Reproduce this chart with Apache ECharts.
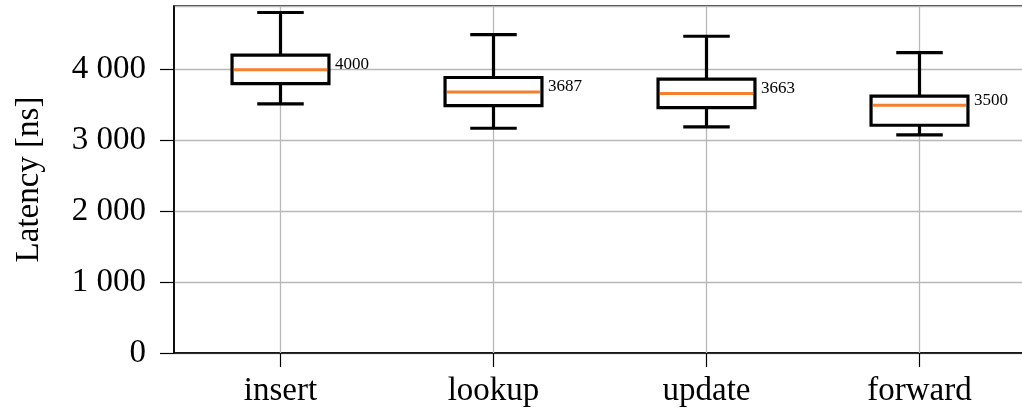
<!DOCTYPE html>
<html>
<head>
<meta charset="utf-8">
<script src="https://cdn.jsdelivr.net/npm/echarts@6/dist/echarts.min.js"></script>
<style>
  html, body { margin: 0; padding: 0; background: #fff; }
  #chart { width: 1022px; height: 411px; }
</style>
</head>
<body>
<div id="chart"></div>
<script>
// Latency distribution per operation (box = quartiles, whiskers = range)
const categories = ['insert', 'lookup', 'update', 'forward'];
const whiskerLow  = [3517, 3174, 3192, 3079];
const q1          = [3805, 3494, 3466, 3216];
const median      = [4000, 3687, 3663, 3500];
const q3          = [4205, 3890, 3866, 3626];
const whiskerHigh = [4808, 4497, 4473, 4243];
const yTicks = { min: 0, max: 4900, interval: 1000 };

const FONT = '"Liberation Serif", "DejaVu Serif", serif';

const boxData = categories.map((c, i) =>
  [i, whiskerLow[i], q1[i], median[i], q3[i], whiskerHigh[i]]);

function renderBox(params, api) {
  const i = api.value(0);
  const band = api.size([1, 0])[0];
  const bw = band * 0.455;
  const capW = bw * 0.48;
  const pLow = api.coord([i, api.value(1)]);
  const pQ1 = api.coord([i, api.value(2)]);
  const pMed = api.coord([i, api.value(3)]);
  const pQ3 = api.coord([i, api.value(4)]);
  const pHigh = api.coord([i, api.value(5)]);
  const x = pMed[0];
  const black = { stroke: '#000', lineWidth: 3.2, fill: null };
  return {
    type: 'group',
    children: [
      { type: 'line', shape: { x1: x, y1: pQ3[1], x2: x, y2: pHigh[1] }, style: black },
      { type: 'line', shape: { x1: x, y1: pQ1[1], x2: x, y2: pLow[1] }, style: black },
      { type: 'line', shape: { x1: x - capW / 2, y1: pHigh[1], x2: x + capW / 2, y2: pHigh[1] }, style: black },
      { type: 'line', shape: { x1: x - capW / 2, y1: pLow[1], x2: x + capW / 2, y2: pLow[1] }, style: black },
      { type: 'rect', shape: { x: x - bw / 2, y: pQ3[1], width: bw, height: pQ1[1] - pQ3[1] },
        style: { fill: '#fff', stroke: '#000', lineWidth: 3.2 } },
      { type: 'line', shape: { x1: x - bw / 2 + 2, y1: pMed[1], x2: x + bw / 2 - 2, y2: pMed[1] },
        style: { stroke: '#f47f2f', lineWidth: 3 } },
      { type: 'text', style: {
          text: String(api.value(3)), x: x + bw / 2 + 6, y: pMed[1] - 5,
          fill: '#000', fontSize: 17, fontFamily: FONT,
          align: 'left', verticalAlign: 'middle' } }
    ]
  };
}

const chart = echarts.init(document.getElementById('chart'), null, { renderer: 'canvas' });
chart.setOption({
  animation: false,
  backgroundColor: '#fff',
  grid: { left: 174, width: 852, top: 6, bottom: 58, show: true,
          outerBoundsMode: 'none', containLabel: false,
          borderColor: '#000', borderWidth: 1.5, backgroundColor: 'transparent' },
  xAxis: {
    type: 'category',
    data: categories,
    boundaryGap: true,
    axisLine: { show: true, lineStyle: { color: '#000', width: 1.5 } },
    axisTick: { show: true, alignWithLabel: true, length: 14, lineStyle: { color: '#000', width: 1.2 } },
    axisLabel: { color: '#000', fontSize: 33, fontFamily: FONT, margin: 22 },
    splitLine: { show: false }
  },
  yAxis: {
    type: 'value',
    min: yTicks.min, max: yTicks.max, interval: yTicks.interval,
    name: 'Latency [ns]',
    nameLocation: 'middle',
    nameGap: 128,
    nameTextStyle: { color: '#000', fontSize: 33, fontFamily: FONT },
    axisLine: { show: true, lineStyle: { color: '#000', width: 1.5 } },
    axisTick: { show: true, length: 14, lineStyle: { color: '#000', width: 1.2 } },
    axisLabel: { color: '#000', fontSize: 33, fontFamily: FONT, margin: 28,
      showMaxLabel: false,
      formatter: v => v >= 1000 ? Math.floor(v / 1000) + ' ' + String(v % 1000).padStart(3, '0') : String(v) },
    splitLine: { show: true, lineStyle: { color: '#b8b8b8', width: 1.3 } }
  },
  series: [
    {
      // vertical grid lines through each category centre
      type: 'custom',
      silent: true,
      z: 1,
      data: categories.map((c, i) => [i]),
      renderItem: (params, api) => {
        const top = api.coord([api.value(0), yTicks.max]);
        const bottom = api.coord([api.value(0), yTicks.min]);
        return { type: 'line', shape: { x1: top[0], y1: top[1], x2: bottom[0], y2: bottom[1] },
                 style: { stroke: '#b8b8b8', lineWidth: 1.3 } };
      }
    },
    {
      type: 'custom',
      z: 2,
      encode: { x: 0, y: [1, 2, 3, 4, 5] },
      data: boxData,
      renderItem: renderBox
    }
  ]
});
</script>
</body>
</html>
